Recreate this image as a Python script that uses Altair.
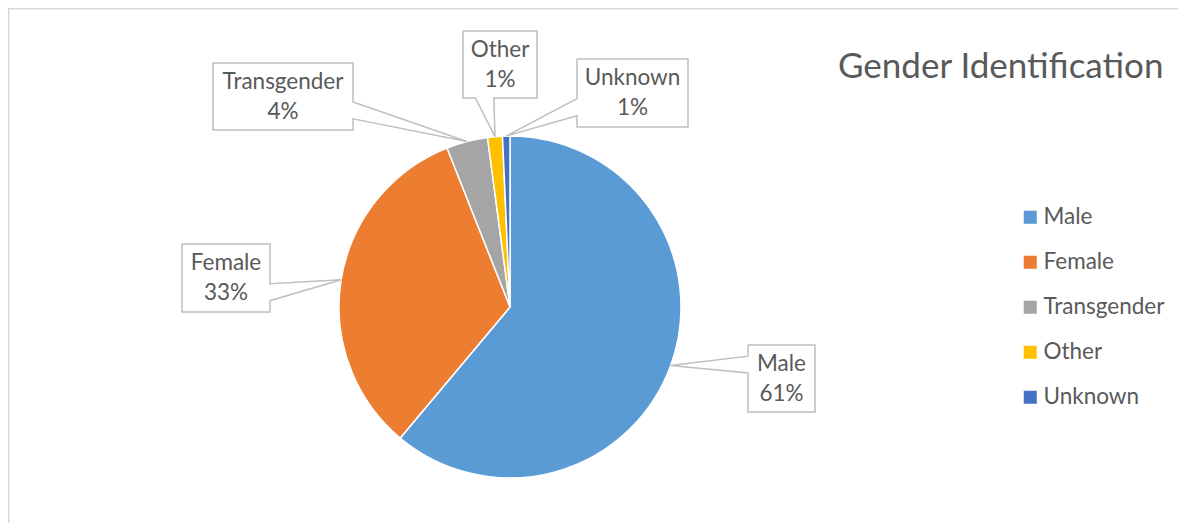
import math
import altair as alt
import pandas as pd

# ---------------- data ----------------
categories = ["Male", "Female", "Transgender", "Other", "Unknown"]
values = [61.1, 32.9, 3.9, 1.4, 0.7]
colors = ["#5B9BD5", "#ED7D31", "#A5A5A5", "#FFC000", "#4472C4"]
title_text = "Gender Identification"

# ---------------- layout (chart pixel space) ----------------
W, H = 1170, 515
PIE_CX, PIE_CY, PIE_R = 502, 299, 171
# data-label boxes: centre x, centre y, width, height (manual label placement)
label_boxes = {
    "Male": (773.5, 370.5, 67, 67),
    "Female": (218, 270, 88, 68),
    "Transgender": (275, 88.5, 140, 67),
    "Other": (492, 56.5, 74, 67),
    "Unknown": (624.5, 85, 111, 68),
}
FONT = "Lato"
TXT = "#595959"
LINE_H = 30

total = sum(values)
pie_df = pd.DataFrame({"category": categories, "value": values, "idx": range(len(categories))})


def callout(l, t, w, h, xp, yp):
    """wedgeRectCallout outline (OOXML geometry)."""
    r, b = l + w, t + h
    hc, vc = l + w / 2, t + h / 2
    dx, dy = xp - hc, yp - vc
    dq = dx * h / w
    dz = abs(dy) - abs(dq)
    x1 = l + w * (7 if xp > hc else 2) / 12
    x2 = l + w * (10 if xp > hc else 5) / 12
    y1 = t + h * (7 if yp > vc else 2) / 12
    y2 = t + h * (10 if yp > vc else 5) / 12
    if dz > 0:
        side = "top" if dy < 0 else "bottom"
    else:
        side = "left" if dx < 0 else "right"
    pts = [(l, t)]
    if side == "top":
        pts += [(x1, t), (xp, yp), (x2, t)]
    pts += [(r, t)]
    if side == "right":
        pts += [(r, y1), (xp, yp), (r, y2)]
    pts += [(r, b)]
    if side == "bottom":
        pts += [(x2, b), (xp, yp), (x1, b)]
    pts += [(l, b)]
    if side == "left":
        pts += [(l, y2), (xp, yp), (l, y1)]
    pts += [(l, t)]
    return pts


line_rows, text_rows = [], []
cum = 0.0
for cat, v in zip(categories, values):
    mid = (cum + v / 2) / total * 2 * math.pi
    cum += v
    tx = PIE_CX + PIE_R * math.sin(mid)
    ty = PIE_CY - PIE_R * math.cos(mid)
    cx, cy, bw, bh = label_boxes[cat]
    pts = callout(cx - bw / 2, cy - bh / 2, bw, bh, tx, ty)
    for i, (px, py) in enumerate(pts):
        line_rows.append({"label": cat, "i": i, "x": px, "y": py})
    pct = round(v / total * 100)
    text_rows.append({"x": cx, "y": cy, "text": f"{cat}\n{pct}%"})

lines_df = pd.DataFrame(line_rows)
text_df = pd.DataFrame(text_rows)

xs = alt.Scale(domain=[0, W], range=[0, W], nice=False, zero=False)
ys = alt.Scale(domain=[0, H], range=[0, H], nice=False, zero=False)

pie = alt.Chart(pie_df).mark_arc(outerRadius=PIE_R, stroke="white", strokeWidth=1.5).encode(
    theta=alt.Theta("value:Q", stack=True),
    color=alt.Color(
        "category:N",
        scale=alt.Scale(domain=categories, range=colors),
        sort=categories,
        legend=alt.Legend(
            title=None, orient="none", legendX=1011, legendY=198,
            symbolType="square", symbolSize=170, symbolStrokeWidth=0,
            labelFont=FONT, labelFontSize=22.5, labelColor=TXT,
            labelOffset=2, rowPadding=22, padding=0,
        ),
    ),
    order=alt.Order("idx:Q"),
    x=alt.value(PIE_CX),
    y=alt.value(PIE_CY),
)

callouts = alt.Chart(lines_df).mark_line(color="#BFBFBF", strokeWidth=1.5, strokeJoin="miter").encode(
    x=alt.X("x:Q", scale=xs, axis=None),
    y=alt.Y("y:Q", scale=ys, axis=None),
    detail="label:N",
    order="i:Q",
)

labels = alt.Chart(text_df).mark_text(
    font=FONT, fontSize=22.5, color=TXT, lineBreak="\n", lineHeight=LINE_H,
    align="center", baseline="middle", dy=-LINE_H / 2,
).encode(
    x=alt.X("x:Q", scale=xs, axis=None),
    y=alt.Y("y:Q", scale=ys, axis=None),
    text="text:N",
)

title = alt.Chart(pd.DataFrame({"t": [title_text]})).mark_text(
    font=FONT, fontSize=35, color=TXT, align="left", baseline="middle",
).encode(x=alt.value(830), y=alt.value(59), text="t:N")

one = pd.DataFrame({"a": [0]})
border_top = alt.Chart(one).mark_rule(color="#D9D9D9", strokeWidth=1.5).encode(
    x=alt.value(0), x2=alt.value(W), y=alt.value(0.75)
)
border_left = alt.Chart(one).mark_rule(color="#D9D9D9", strokeWidth=1.5).encode(
    x=alt.value(0.75), y=alt.value(0), y2=alt.value(H)
)

chart = (
    alt.layer(border_top, border_left, pie, callouts, labels, title)
    .properties(width=W, height=H, padding=0, autosize=alt.AutoSizeParams(type="none"), background="white")
    .configure_view(stroke=None)
)

chart.save("out.html", embed_options={"renderer": "svg", "actions": False})
